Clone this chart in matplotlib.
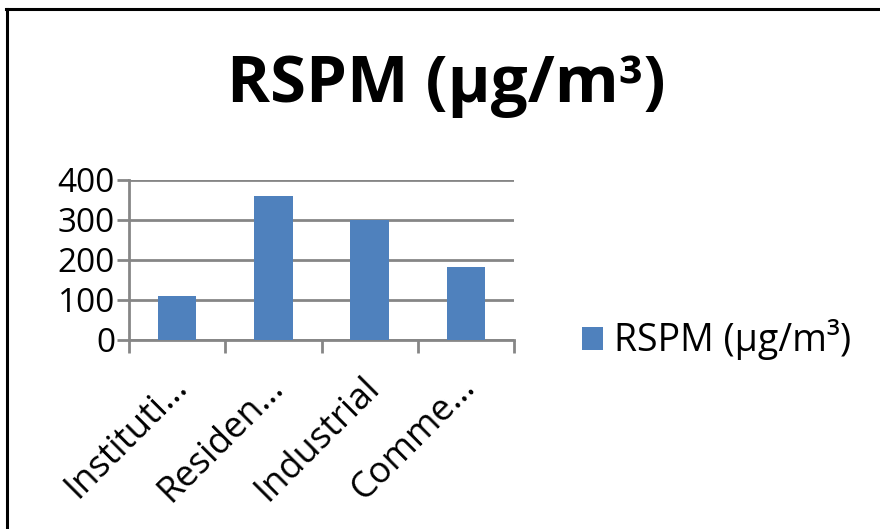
import matplotlib
matplotlib.use("Agg")
import matplotlib.pyplot as plt
import matplotlib.transforms as mtransforms
from matplotlib.lines import Line2D
from matplotlib.patches import Patch
import numpy as np

categories = ["Instituti…", "Residen…", "Industrial", "Comme…"]
rspm = [111, 360, 300, 182]
y_ticks = [0, 100, 200, 300, 400]
series_name = "RSPM (µg/m³)"
chart_title = "RSPM (µg/m³)"

BAR = "#4F81BD"
GRID = "#868686"
FONT = "Open Sans"

plt.rcParams["font.family"] = [FONT, "DejaVu Sans"]

W, H = 880, 529
fig = plt.figure(figsize=(W / 100, H / 100), dpi=100)
fig.patch.set_facecolor("white")

ax = fig.add_axes([129 / W, 1 - 340 / H, (514 - 129) / W, 160 / H])
x = np.arange(len(categories))
ax.bar(x, rspm, width=0.4, color=BAR, zorder=3)

ax.set_xlim(-0.5, len(categories) - 0.5)
ax.set_ylim(0, 400)
ax.set_yticks(y_ticks)
ax.set_yticklabels([str(v) for v in y_ticks], fontsize=24)
ax.yaxis.grid(True, color=GRID, linewidth=2, zorder=0)

# category labels centred, tick marks on category boundaries
ax.set_xticks(x)
ax.set_xticklabels(categories, rotation=45, ha="right", rotation_mode="anchor",
                   fontsize=26)
ax.tick_params(axis="x", which="major", length=0, pad=21)
shift = mtransforms.ScaledTranslation(-8 / 100, 0, fig.dpi_scale_trans)
for lbl in ax.get_xticklabels():
    lbl.set_transform(lbl.get_transform() + shift)
ax.set_xticks(np.arange(len(categories) + 1) - 0.5, minor=True)
ax.tick_params(axis="x", which="minor", length=9, width=2, color=GRID)
ax.tick_params(axis="y", length=9, width=2, color=GRID, pad=1)

for side in ("top", "right"):
    ax.spines[side].set_visible(False)
for side in ("left", "bottom"):
    ax.spines[side].set_color(GRID)
    ax.spines[side].set_linewidth(2)

fig.text(446 / W, 1 - 86 / H, chart_title, ha="center", va="center",
         fontsize=47, fontweight="bold")

fig.legend(handles=[Patch(facecolor=BAR, label=series_name)],
           loc="center left", bbox_to_anchor=(548 / W, 1 - 340 / H),
           frameon=False, fontsize=27, handlelength=0.56, handleheight=0.56,
           handletextpad=0.3)

# outer frame (top and left edges)
fig.add_artist(Line2D([7 / W, 7 / W], [0, 1 - 8.5 / H], transform=fig.transFigure,
                      color="black", linewidth=2.2))
fig.add_artist(Line2D([6 / W, 1], [1 - 8.5 / H, 1 - 8.5 / H], transform=fig.transFigure,
                      color="black", linewidth=2.2))

fig.savefig("out.png", dpi=100, facecolor="white")
